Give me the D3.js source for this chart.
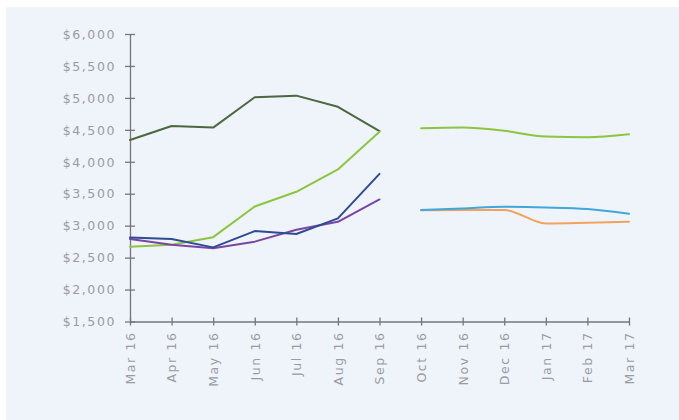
<!DOCTYPE html>
<html>
<head>
<meta charset="utf-8">
<script src="https://cdn.jsdelivr.net/npm/d3@7/dist/d3.min.js"></script>
<style>
  html, body { margin: 0; padding: 0; background: #ffffff; }
  svg { display: block; }
  .tick text { font-family: "DejaVu Sans", sans-serif; font-size: 12.5px; fill: #9a9ca3; letter-spacing: 1.6px; }
</style>
</head>
<body>
<svg id="chart" width="679" height="420"></svg>
<script>
// Month labels along the x axis
const months = ["Mar 16", "Apr 16", "May 16", "Jun 16", "Jul 16", "Aug 16", "Sep 16",
                "Oct 16", "Nov 16", "Dec 16", "Jan 17", "Feb 17", "Mar 17"];
// Y axis tick values
const yTicks = [1500, 2000, 2500, 3000, 3500, 4000, 4500, 5000, 5500, 6000];

// First half-year series (Mar 16 – Sep 16)
const darkGreenA = [4340, 4560, 4535, 5010, 5035, 4860, 4480];
const lightGreenA = [2670, 2700, 2820, 3300, 3530, 3880, 4470];
const navyA = [2815, 2790, 2660, 2915, 2870, 3115, 3810];
const purpleA = [2790, 2700, 2645, 2750, 2935, 3060, 3410];

// Second half-year series (Oct 16 – Mar 17)
const lightGreenB = [4525, 4535, 4485, 4395, 4385, 4430];
const orangeB = [3240, 3245, 3245, 3035, 3045, 3060];
const skyB = [3245, 3270, 3295, 3285, 3260, 3185];

const svg = d3.select("#chart");
const W = 679, H = 420;

// panel background
svg.append("rect").attr("x", 6).attr("y", 7).attr("width", W - 6).attr("height", H - 7)
  .attr("fill", "#eff3fa");

const x = d3.scalePoint().domain(months).range([130, 629]);
const y = d3.scaleLinear().domain([1500, 6000]).range([321.5, 34]);

// y axis
const yAxis = svg.append("g").attr("transform", "translate(130,0)")
  .call(d3.axisLeft(y).tickValues(yTicks).tickSize(0).tickPadding(14)
    .tickFormat(d => "$" + d3.format(",")(d)));
yAxis.select(".domain").attr("stroke", "#74777f").attr("stroke-width", 1.3);
yAxis.selectAll(".tick line").remove();
yAxis.selectAll(".tick").append("line")
  .attr("x1", -5).attr("x2", 5).attr("stroke", "#74777f").attr("stroke-width", 1.3);
yAxis.selectAll(".tick text").attr("dy", "0.34em");

// x axis
const xAxis = svg.append("g").attr("transform", "translate(0,321.5)")
  .call(d3.axisBottom(x).tickSize(0).tickPadding(0));
xAxis.select(".domain").attr("stroke", "#74777f").attr("stroke-width", 1.3);
xAxis.selectAll(".tick line").remove();
xAxis.selectAll(".tick").append("line")
  .attr("y1", -4).attr("y2", 4).attr("stroke", "#74777f").attr("stroke-width", 1.3);
xAxis.selectAll(".tick text")
  .attr("text-anchor", "end")
  .attr("transform", "translate(0,10) rotate(-90)")
  .attr("x", 0).attr("y", 0).attr("dy", "0.35em");

const firstMonths = months.slice(0, 7);
const lastMonths = months.slice(7);

const lineA = d3.line().x((d, i) => x(firstMonths[i])).y(d => y(d));
const lineB = d3.line().x((d, i) => x(lastMonths[i])).y(d => y(d)).curve(d3.curveMonotoneX);

const series = [
  { data: darkGreenA, gen: lineA, color: "#4c6840" },
  { data: lightGreenA, gen: lineA, color: "#8cc540" },
  { data: purpleA, gen: lineA, color: "#7b46a3" },
  { data: navyA, gen: lineA, color: "#2e4b93" },
  { data: lightGreenB, gen: lineB, color: "#8cc540" },
  { data: orangeB, gen: lineB, color: "#f3a25d" },
  { data: skyB, gen: lineB, color: "#3fa7dc" }
];

svg.append("g").selectAll("path").data(series).join("path")
  .attr("d", s => s.gen(s.data))
  .attr("fill", "none")
  .attr("stroke", s => s.color)
  .attr("stroke-width", 2)
  .attr("stroke-linejoin", "round")
  .attr("stroke-linecap", "round");
</script>
</body>
</html>
